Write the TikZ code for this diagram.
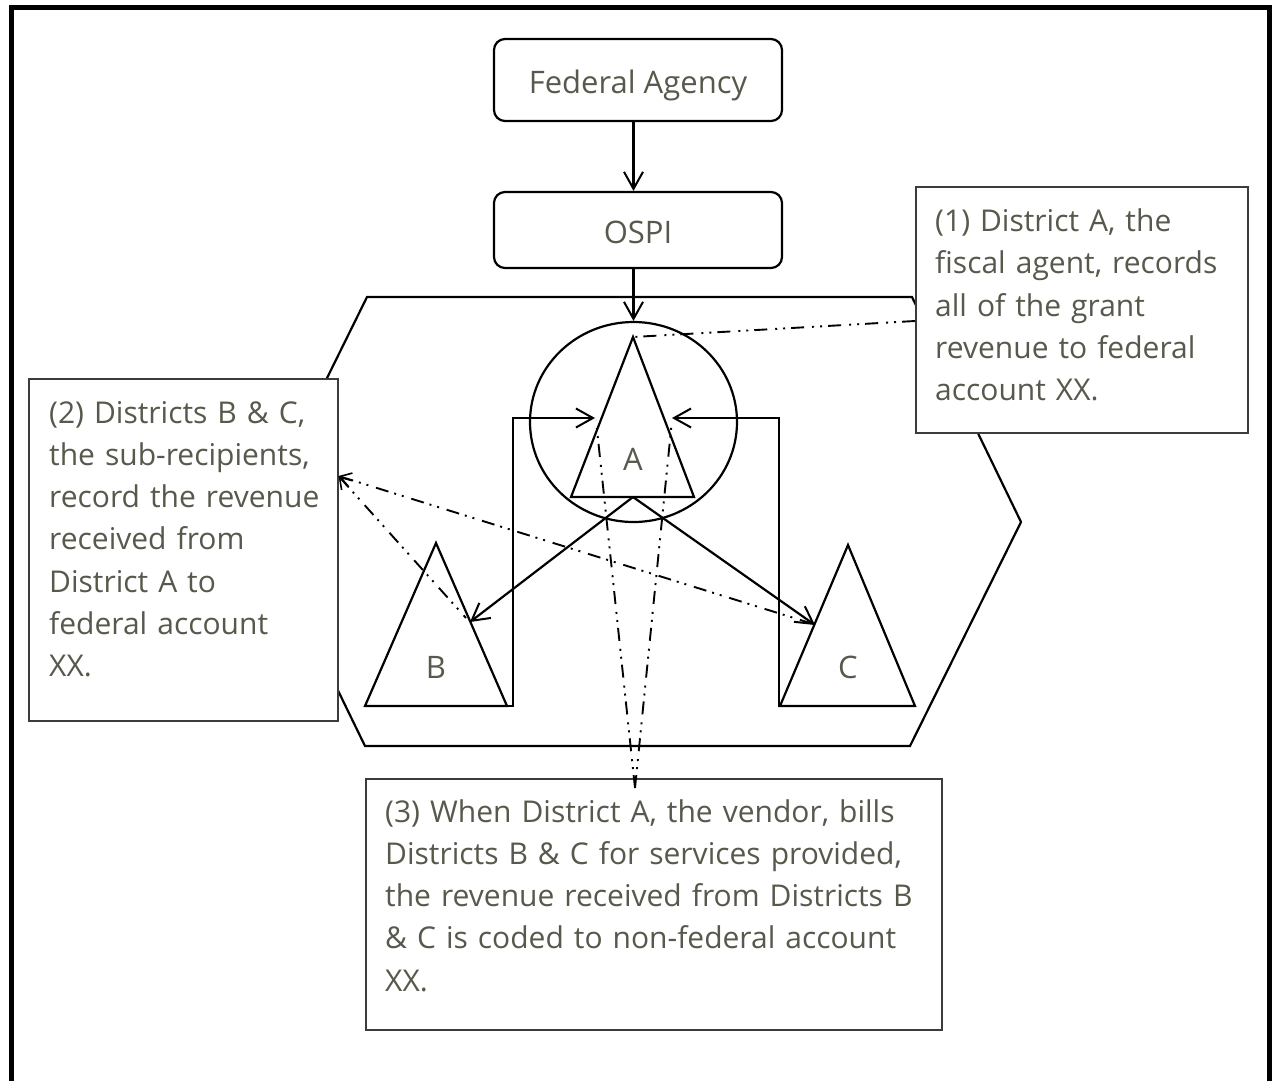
\documentclass[tikz,border=0pt]{standalone}
\usepackage{fontspec}
\setmainfont{Open Sans}
\usetikzlibrary{arrows.meta,calc,shapes.geometric}
\definecolor{txt}{RGB}{88,88,76}
\definecolor{boxline}{RGB}{60,60,60}
\begin{document}
\begin{tikzpicture}[x=1pt,y=-1pt,
  thick line/.style={line width=2.2pt,black},
  vhead/.style={-{Straight Barb[length=17pt,width=19pt,line width=2pt]}},
  rbox/.style={draw,thick line,rounded corners=11pt,inner sep=0pt,text=txt,
    font=\fontsize{31}{36}\selectfont,minimum width=288pt},
  callout/.style={draw=boxline,line width=1.5pt,fill=white,inner sep=0pt,anchor=north west},
  ctext/.style={text=txt,font=\fontsize{30}{42.3}\selectfont,align=left,anchor=base west,inner sep=0pt},
  tlabel/.style={text=txt,font=\fontsize{31}{36}\selectfont,anchor=base,inner sep=0pt},
  ddline/.style={line width=1.9pt,black,dash pattern=on 13pt off 6pt on 2pt off 6pt on 2pt off 8pt},
  smallhead/.style={{Straight Barb[length=11pt,width=14pt,line width=1.6pt]}-},
]
\useasboundingbox (0,0) rectangle (1272,1080);
\clip (0,0) rectangle (1272,1080);
% outer frame
\draw[line width=5pt] (11,7.5) rectangle (1269.5,1110);

% hexagon
\draw[thick line] (367,297) -- (912,297) -- (1021,522) -- (910,746) -- (365,746) -- (256,522) -- cycle;

% top boxes
\node[rbox,minimum height=82pt,text height=26.6pt,text depth=0pt] (fed) at (638,80) {Federal Agency};
\node[rbox,minimum height=76pt,text height=26pt,text depth=0pt] (ospi) at (638,230) {OSPI};

% circle
\node[draw,thick line,ellipse,minimum width=207pt,minimum height=200pt,inner sep=0pt] (circ) at (633.5,422) {};

% triangles
\coordinate (Atop) at (633,337);
\coordinate (Abl) at (571,497);
\coordinate (Abr) at (694,497);
\coordinate (Abase) at (633,497);
\coordinate (Btop) at (436,543);
\coordinate (Bbl) at (365,706);
\coordinate (Bbr) at (507,706);
\coordinate (Ctop) at (848,545);
\coordinate (Cbl) at (780,706);
\coordinate (Cbr) at (915,706);
\draw[thick line] (Atop) -- (Abr) -- (Abl) -- cycle;
\draw[thick line] (Btop) -- (Bbr) -- (Bbl) -- cycle;
\draw[thick line] (Ctop) -- (Cbr) -- (Cbl) -- cycle;
\node[tlabel] (la) at (633,470) {A};
\node[tlabel] (lb) at (436,678) {B};
\node[tlabel] (lc) at (848,678) {C};

% vertical arrows
\draw[thick line,vhead] (circ.north |- fed.south) -- (circ.north |- ospi.north);
\draw[thick line,vhead] (circ.north |- ospi.south) -- (circ.north);

% brackets
\coordinate (Ain1) at (595,418);
\coordinate (Ain2) at (672,418);
\draw[thick line,vhead] (Bbr) -- (513,706) -- (513,418) -- (Ain1);
\draw[thick line,vhead] (Cbl) -- (779,706) -- (779,418) -- (Ain2);

% arrows from A to B and C
\coordinate (Bhit) at (470,622);
\coordinate (Chit) at (815,625);
\draw[thick line,vhead] (Abase) -- (Bhit);
\draw[thick line,vhead] (Abase) -- (Chit);

% callouts
\node[callout,minimum width=332pt,minimum height=246pt] (n1) at (915,186) {};
\node[callout,minimum width=309pt,minimum height=342pt] (n2) at (28,378) {};
\node[callout,minimum width=576pt,minimum height=251pt] (n3) at (365,778) {};

\node[ctext,text width=330pt] (t1) at (935,231.5) {(1) District A, the\\fiscal agent, records\\all of the grant\\revenue to federal\\account XX.};
\node[ctext,text width=320pt] (t2) at (49,423) {(2) Districts B \& C,\\the sub-recipients,\\record the revenue\\received from\\District A to\\federal account\\XX.};
\node[ctext,text width=580pt] (t3) at (385,822) {(3) When District A, the vendor, bills\\Districts B \& C for services provided,\\the revenue received from Districts B\\\& C is coded to non-federal account\\XX.};

% dash-dot connectors
\coordinate (p1) at (n1.west |- 0,321);
\draw[ddline] (p1) -- (Atop);
\coordinate (p2) at (n2.east |- 0,476);
\draw[ddline,smallhead] (p2) -- (466,618);
\draw[ddline,smallhead] (p2) -- (810,623);
\coordinate (p3) at (635,788);
\draw[ddline] (p3) -- (596,420);
\draw[ddline] (p3) -- (672,420);
\end{tikzpicture}
\end{document}
